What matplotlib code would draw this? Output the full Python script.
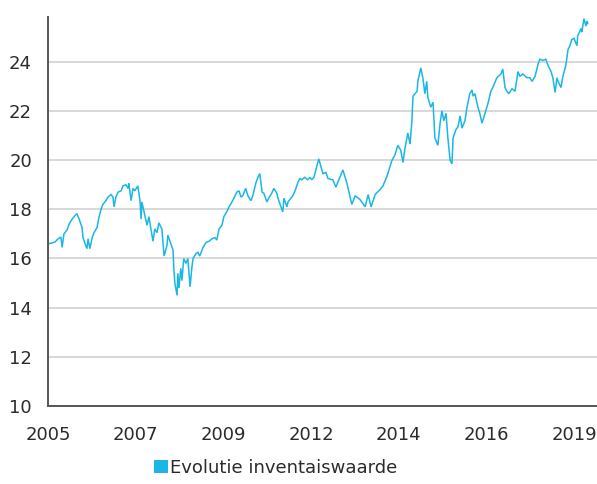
import matplotlib
matplotlib.use("Agg")
import matplotlib.pyplot as plt
from matplotlib.patches import Patch

# fractional year of each observation
dates = [
    2005.00, 2005.11, 2005.19, 2005.27, 2005.35, 2005.38, 2005.43, 2005.51, 2005.57, 2005.65,
    2005.73, 2005.78, 2005.84, 2005.92, 2005.94, 2006.00, 2006.05, 2006.08, 2006.13, 2006.19,
    2006.24, 2006.32, 2006.37, 2006.43, 2006.48, 2006.56, 2006.62, 2006.70, 2006.75, 2006.78,
    2006.83, 2006.89, 2006.97, 2007.02, 2007.10, 2007.16, 2007.18, 2007.24, 2007.29, 2007.34,
    2007.42, 2007.48, 2007.51, 2007.53, 2007.59, 2007.67, 2007.72, 2007.77, 2007.83, 2007.88,
    2007.94, 2007.99, 2008.07, 2008.13, 2008.21, 2008.23, 2008.31, 2008.37, 2008.39, 2008.42,
    2008.48, 2008.50, 2008.53, 2008.58, 2008.61, 2008.66, 2008.72, 2008.77, 2008.80, 2008.83,
    2008.88, 2008.91, 2008.99, 2009.04, 2009.09, 2009.18, 2009.26, 2009.34, 2009.42, 2009.50,
    2009.55, 2009.61, 2009.69, 2009.74, 2009.82, 2009.88, 2009.96, 2010.01, 2010.09, 2010.15,
    2010.20, 2010.25, 2010.33, 2010.39, 2010.47, 2010.52, 2010.60, 2010.66, 2010.71, 2010.77,
    2010.82, 2010.90, 2010.95, 2011.03, 2011.09, 2011.17, 2011.20, 2011.28, 2011.33, 2011.36,
    2011.44, 2011.47, 2011.55, 2011.60, 2011.66, 2011.74, 2011.79, 2011.84, 2011.92, 2012.00,
    2012.06, 2012.11, 2012.17, 2012.22, 2012.30, 2012.41, 2012.49, 2012.55, 2012.68, 2012.76,
    2012.87, 2012.95, 2013.06, 2013.19, 2013.28, 2013.41, 2013.55, 2013.63, 2013.71, 2013.82,
    2013.95, 2014.03, 2014.14, 2014.27, 2014.35, 2014.43, 2014.51, 2014.57, 2014.62, 2014.70,
    2014.76, 2014.81, 2014.84, 2014.95, 2014.97, 2015.05, 2015.11, 2015.16, 2015.21, 2015.24,
    2015.32, 2015.38, 2015.43, 2015.51, 2015.57, 2015.62, 2015.67, 2015.73, 2015.78, 2015.84,
    2015.89, 2015.92, 2016.00, 2016.05, 2016.11, 2016.16, 2016.24, 2016.29, 2016.37, 2016.43,
    2016.46, 2016.51, 2016.59, 2016.64, 2016.70, 2016.78, 2016.86, 2016.94, 2016.99, 2017.10,
    2017.21, 2017.26, 2017.32, 2017.37, 2017.42, 2017.51, 2017.59, 2017.67, 2017.72, 2017.80,
    2017.91, 2017.99, 2018.05, 2018.13, 2018.21, 2018.26, 2018.34, 2018.42, 2018.48, 2018.56,
    2018.61, 2018.67, 2018.72, 2018.75, 2018.83, 2018.88, 2018.96, 2019.02, 2019.07, 2019.12,
    2019.18, 2019.26, 2019.28, 2019.37, 2019.39, 2019.45, 2019.50, 2019.53, 2019.55,
]

# net asset value (inventariswaarde)
nav = [
    16.60, 16.63, 16.67, 16.80, 16.87, 16.45, 17.00, 17.15, 17.40, 17.60,
    17.75, 17.82, 17.60, 17.25, 16.87, 16.60, 16.40, 16.80, 16.40, 16.85,
    17.05, 17.25, 17.65, 18.00, 18.20, 18.35, 18.50, 18.60, 18.50, 18.10,
    18.50, 18.70, 18.75, 18.95, 19.00, 18.85, 19.05, 18.35, 18.85, 18.75,
    18.95, 18.35, 17.60, 18.30, 17.90, 17.35, 17.70, 17.25, 16.70, 17.20,
    17.05, 17.45, 17.20, 16.10, 16.55, 16.95, 16.60, 16.35, 15.65, 15.00,
    14.50, 15.40, 14.80, 15.60, 15.10, 16.00, 15.80, 16.00, 15.40, 14.85,
    15.65, 16.00, 16.20, 16.25, 16.10, 16.45, 16.65, 16.70, 16.80, 16.85,
    16.75, 17.20, 17.35, 17.70, 17.90, 18.10, 18.30, 18.45, 18.70, 18.75,
    18.50, 18.55, 18.85, 18.55, 18.35, 18.55, 19.05, 19.30, 19.45, 18.70,
    18.65, 18.30, 18.45, 18.65, 18.85, 18.65, 18.45, 18.10, 17.90, 18.45,
    18.10, 18.30, 18.45, 18.55, 18.75, 19.10, 19.25, 19.20, 19.30, 19.20,
    19.30, 19.20, 19.30, 19.60, 20.05, 19.45, 19.50, 19.25, 19.20, 18.90,
    19.30, 19.60, 19.05, 18.20, 18.55, 18.40, 18.10, 18.60, 18.10, 18.60,
    18.80, 18.95, 19.35, 19.98, 20.20, 20.60, 20.40, 19.90, 20.45, 21.10,
    20.65, 21.60, 22.60, 22.80, 23.20, 23.75, 23.30, 22.70, 23.20, 22.55,
    22.15, 22.35, 20.90, 20.60, 21.50, 22.00, 21.60, 21.90, 20.90, 20.00,
    19.85, 20.90, 21.25, 21.35, 21.80, 21.30, 21.60, 22.10, 22.70, 22.85,
    22.60, 22.70, 22.15, 21.90, 21.50, 21.90, 22.30, 22.80, 22.95, 23.35,
    23.50, 23.70, 22.95, 22.80, 22.70, 22.90, 22.80, 23.60, 23.40, 23.50,
    23.35, 23.35, 23.20, 23.40, 23.90, 24.10, 24.05, 24.10, 23.85, 23.60,
    23.35, 22.75, 23.35, 23.20, 22.95, 23.40, 23.85, 24.50, 24.65, 24.90,
    24.95, 24.65, 25.05, 25.35, 25.20, 25.75, 25.45, 25.65, 25.55,
]

tick_labels = ["2005", "2007", "2009", "2012", "2014", "2016", "2019"]
tick_step = 2.364  # years between labelled observations
y_ticks = [10, 12, 14, 16, 18, 20, 22, 24]
series_name = "Evolutie inventaiswaarde"

LINE = "#1ab7e6"
TXT = "#2b2b2b"

plt.rcParams["font.family"] = ["DejaVu Sans"]

fig = plt.figure(figsize=(5.97, 4.84), dpi=100)
ax = fig.add_axes([0.0804, 0.161, 0.9196, 0.803])

ax.plot(dates, nav, color=LINE, linewidth=1.1, solid_joinstyle="miter", zorder=3)

ax.set_xlim(dates[0], 2019.80)
ax.set_ylim(10, 25.8)
ax.set_yticks(y_ticks)
ax.set_yticklabels([str(v) for v in y_ticks])
ax.set_xticks([dates[0] + i * tick_step for i in range(len(tick_labels))])
ax.set_xticklabels(tick_labels)

for s in ["top", "right"]:
    ax.spines[s].set_visible(False)
for s in ["left", "bottom"]:
    ax.spines[s].set_color("#555555")
    ax.spines[s].set_linewidth(1.4)
    ax.spines[s].set_zorder(4)

ax.tick_params(axis="both", length=0, labelsize=13, colors=TXT)
ax.tick_params(axis="y", pad=11.5)
ax.tick_params(axis="x", pad=14)

# horizontal gridlines at the y ticks
ax.yaxis.grid(True, color="#d6d6d6", linewidth=1.3, zorder=1)
ax.xaxis.grid(False)
ax.set_axisbelow(True)

handle = Patch(facecolor=LINE, edgecolor="none")
fig.legend([handle], [series_name], loc="center", bbox_to_anchor=(0.462, 0.033),
           frameon=False, fontsize=13, handlelength=0.77, handleheight=0.77,
           handletextpad=0.12, labelcolor=TXT)

fig.savefig("out.png", dpi=100, facecolor="white")
